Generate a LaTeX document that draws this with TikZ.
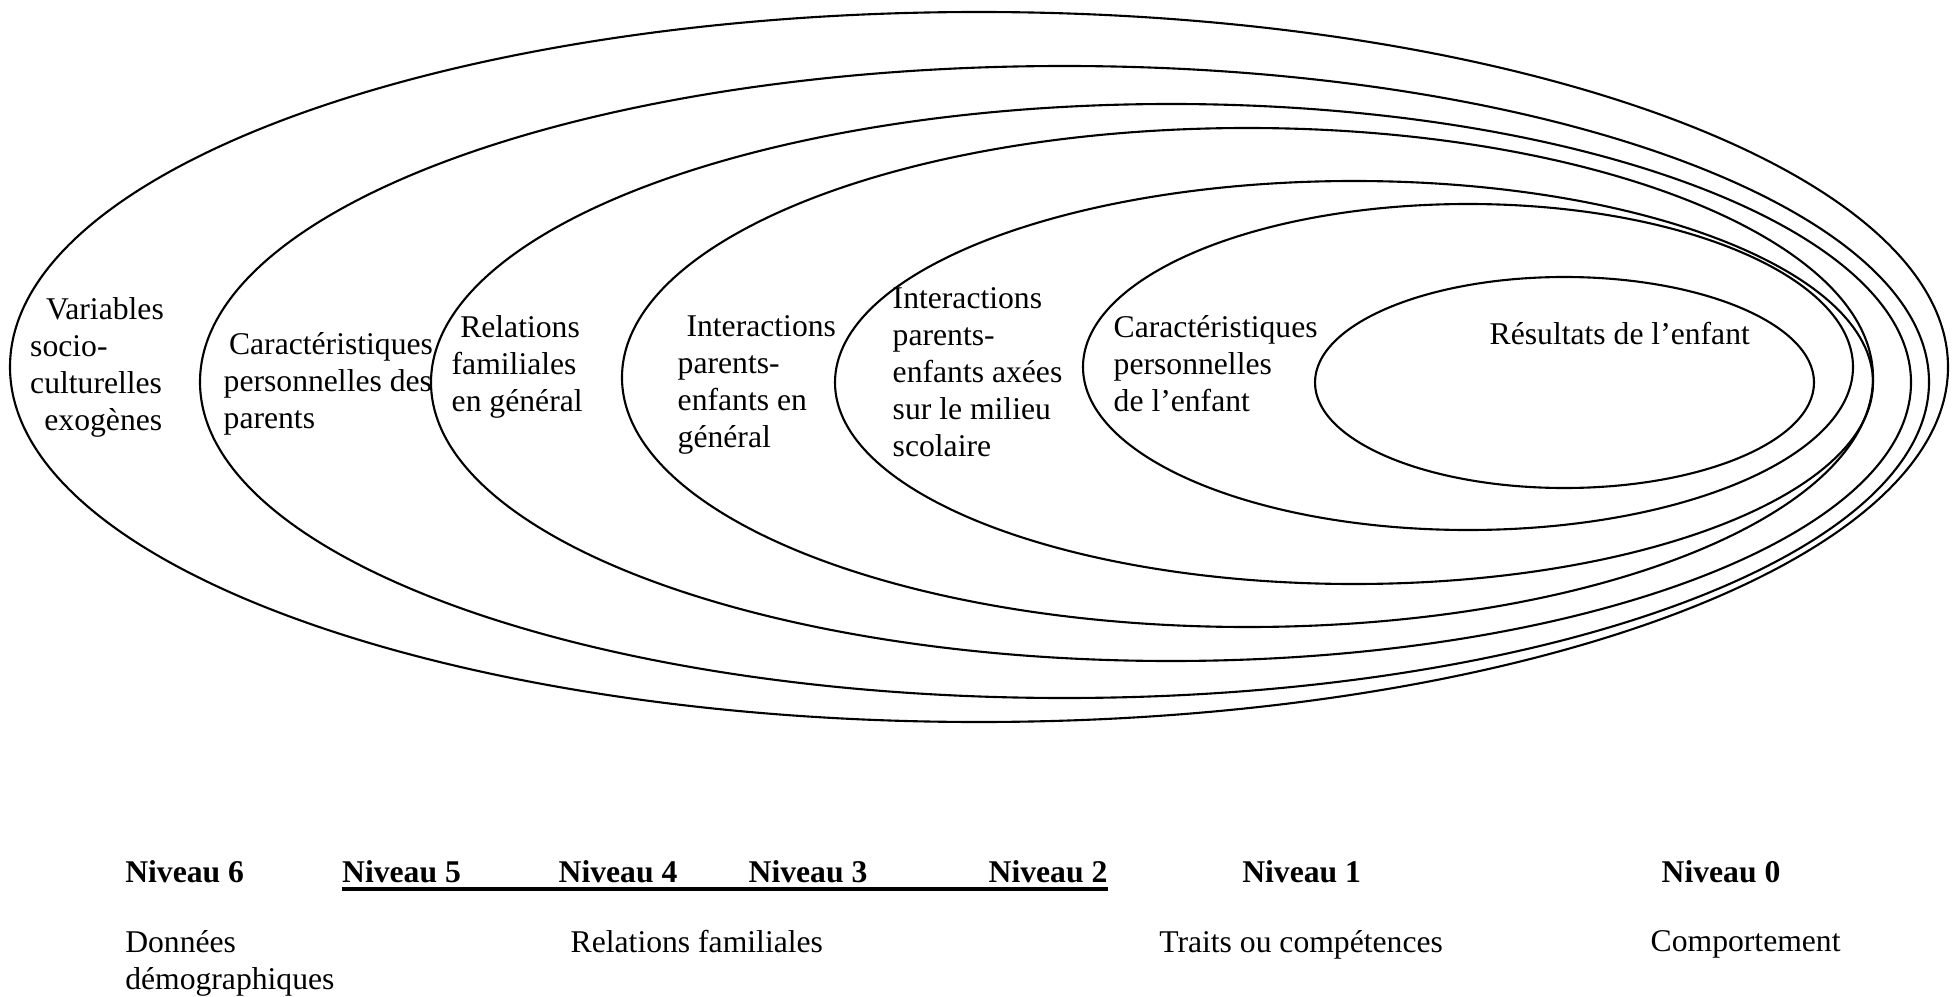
\documentclass[tikz,border=0pt]{standalone}
\usepackage{fontspec}
\setmainfont{Liberation Serif}

\tikzset{
  lab/.style={anchor=north west, inner sep=0pt, align=left, font=\fontsize{9}{10.5}\selectfont},
  niv/.style={lab, font=\fontsize{9}{10.5}\selectfont\bfseries},
  ring/.style={line width=.6pt}
}

\begin{document}
\begin{tikzpicture}[x=.01cm, y=-.01cm]

\useasboundingbox (0,0) rectangle (1960,997);

\draw [ring] (979,367) ellipse [x radius=969, y radius=355];
\draw [ring] (1064.5,382) ellipse [x radius=864.5, y radius=316];
\draw [ring] (1171,382.5) ellipse [x radius=740, y radius=278.5];
\draw [ring] (1247.5,377.5) ellipse [x radius=625.5, y radius=249.5];
\draw [ring] (1354,382.5) ellipse [x radius=519, y radius=201.5];
\draw [ring] (1468,367) ellipse [x radius=385, y radius=163];
\draw [ring] (1564.5,382.5) ellipse [x radius=249.5, y radius=105.5];

\node [lab] (exo) at (29.5,297) {\hspace*{.5em}Variables\\socio-\\culturelles\\\hspace*{.45em}exogènes};
\node [lab] (pers) at (223,332) {\hspace*{.17em}Caractéristiques\\personnelles des\\parents};
\node [lab] (fam) at (451,315) {\hspace*{.27em}Relations\\familiales\\en général};
\node [lab] (inter) at (677,315) {\hspace*{.28em}Interactions\\parents-\\enfants en\\général};
\node [lab] (scol) at (892,287) {Interactions\\parents-\\enfants axées\\sur le milieu\\scolaire};
\node [lab] (enf) at (1113,315) {Caractéristiques\\personnelles\\de l’enfant};
\node [lab] (res) at (1489,322) {Résultats de l’enfant};

\node [niv] (n6) at (124.6,860) {Niveau 6};
\node [niv] (n5) at (341.5,860) {Niveau 5};
\node [niv] (n4) at (558,860) {Niveau 4};
\node [niv] (n3) at (748,860) {Niveau 3};
\node [niv] (n2) at (988,860) {Niveau 2};
\node [niv] (n1) at (1241.6,860) {Niveau 1};
\node [niv] (n0) at (1661,860) {Niveau 0};
\draw [line width=1.2pt] ([yshift=-1.7pt]n5.base west) -- ([yshift=-1.7pt]n2.base east);

\node [lab] (demo) at (124.6,930) {Données\\démographiques};
\node [lab] (rel) at (570,930) {Relations familiales};
\node [lab] (trait) at (1158.6,930) {Traits ou compétences};
\node [lab] (comp) at (1650,930) {Comportement};

\end{tikzpicture}
\end{document}
